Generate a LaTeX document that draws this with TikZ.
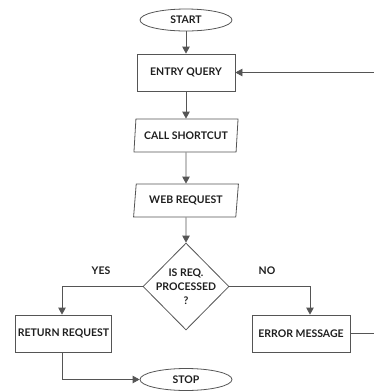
\documentclass[tikz,border=0pt]{standalone}
\usepackage{fontspec}
\setmainfont{Lato}
\usetikzlibrary{shapes.geometric,arrows.meta}
\definecolor{linec}{HTML}{555555}
\definecolor{textc}{HTML}{1E1E1E}
\begin{document}
\begin{tikzpicture}[x=1pt,y=-1pt,
  every node/.style={font=\fontsize{10.5}{12}\selectfont\bfseries, text=textc},
  term/.style={ellipse, draw=linec, line width=0.8pt, minimum width=92pt, minimum height=22pt, inner sep=0pt},
  procbox/.style={rectangle, draw=linec, line width=0.8pt, minimum width=98pt, minimum height=37pt, inner sep=0pt},
  iobox/.style={trapezium, trapezium left angle=78, trapezium right angle=102, trapezium stretches=true, draw=linec, line width=0.8pt, minimum width=105pt, minimum height=33pt, inner sep=0pt},
  decide/.style={diamond, draw=linec, line width=0.8pt, minimum width=86pt, minimum height=87pt, inner sep=-12pt, align=center, font=\fontsize{10.5}{14}\selectfont\bfseries},
  lbl/.style={font=\fontsize{10.5}{12}\selectfont\bfseries},
  arr/.style={draw=linec, line width=0.8pt, -{Triangle[length=7pt,width=7.5pt]}},
  ln/.style={draw=linec, line width=0.8pt}]
\useasboundingbox (0,0) rectangle (374,392);
\clip (0,0) rectangle (374,392);
\node[term] (start) at (186,20) {START};
\node[procbox] (entry) at (186,72.5) {ENTRY QUERY};
\node[iobox] (call) at (186,135.5) {CALL SHORTCUT};
\node[iobox] (web) at (186,200.5) {WEB REQUEST};
\node[decide] (dec) at (186,286.5) {IS REQ.\\PROCESSED\\?};
\node[procbox, minimum width=96pt] (ret) at (63.5,333.5) {RETURN REQUEST};
\node[procbox, minimum width=98pt] (err) at (301,333.5) {ERROR MESSAGE};
\node[term] (stop) at (186,379.5) {STOP};
\node[lbl] (yes) at (101,271) {YES};
\node[lbl] (no) at (267,271) {NO};
\coordinate (lx) at (62,0);
\coordinate (rx) at (310,0);
\draw[arr] (start) -- (entry);
\draw[arr] (entry) -- (call);
\draw[arr] (call) -- (web);
\draw[arr] (web) -- (dec);
\draw[arr] (dec.west) -| (lx |- ret.north);
\draw[arr] (dec.east) -| (rx |- err.north);
\draw[arr] (ret.south -| lx) |- (stop.west);
\draw[arr] (err.east) -- ++(30,0) |- (entry.east);
\end{tikzpicture}
\end{document}
